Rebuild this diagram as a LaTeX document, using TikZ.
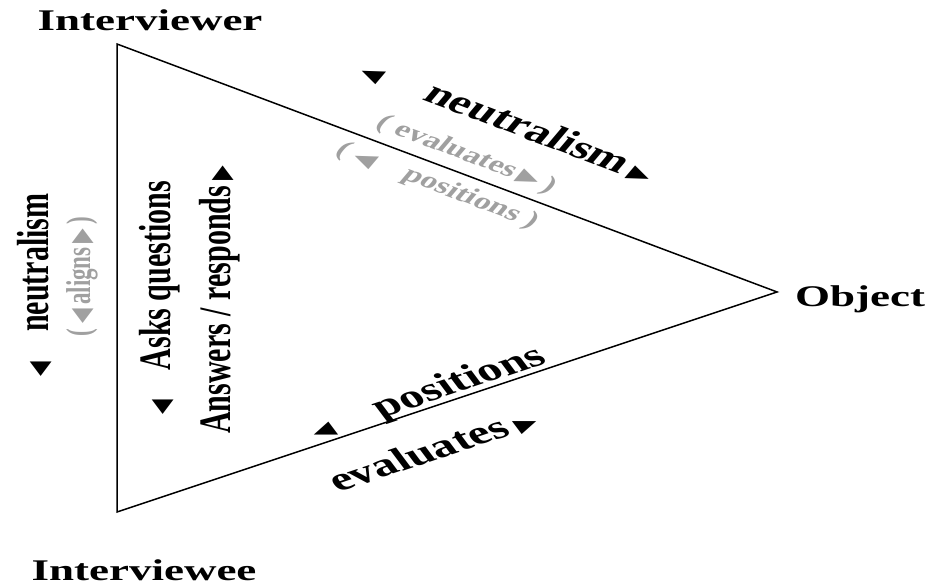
\documentclass[tikz,border=0pt]{standalone}
\usepackage{fontspec}
\setmainfont{Liberation Serif}
\newfontfamily\trifont{DejaVu Sans}
\definecolor{palegrey}{RGB}{160,160,160}
\newcommand{\ltri}{{\trifont\fontsize{19}{19}\selectfont ◀}}
\newcommand{\rtri}{{\trifont\fontsize{19}{19}\selectfont ▶}}
\begin{document}
\begin{tikzpicture}[x={(0.6667pt,0)},y={(0,-1pt)},xscale=1.5,transform shape,
	edge/.style={line width=1.5pt,line join=miter},
	corner/.style={font=\fontsize{30}{30}\selectfont\bfseries},
	word/.style={font=\fontsize{30}{30}\selectfont\bfseries},
	bigword/.style={font=\fontsize{33}{33}\selectfont\bfseries},
	paleword/.style={font=\fontsize{23}{23}\selectfont\bfseries,text=palegrey}]
	\useasboundingbox (0,0) rectangle (935,586);
	\coordinate (tl) at (117,44);
	\coordinate (bl) at (117,512);
	\coordinate (rt) at (777,292);
	\draw[edge] (tl) -- (rt) -- (bl) -- cycle;
	\node[corner] (interviewer) at (150,20) {Interviewer};
	\node[corner] (interviewee) at (144,570) {Interviewee};
	\node[corner] (object) at (860,299) {Object};
%	top side
	\node[bigword,rotate=-29.5] (neutraltop) at (510,121) {\ltri\quad neutralism\,\rtri};
	\node[paleword,rotate=-29.5] (evaltop) at (466,155) {( evaluates\,\rtri\,)};
	\node[paleword,rotate=-29.5] (postop) at (437,186) {( \ltri\quad positions )};
%	left side
	\node[word,rotate=90] (neutralleft) at (35,285) {\ltri\quad neutralism};
	\node[paleword,rotate=90] (aligns) at (82,277) {( \ltri\,aligns\,\rtri\,)};
	\node[word,rotate=90] (asks) at (160,298) {\ltri\quad Asks questions};
	\node[word,rotate=90] (answers) at (220,300) {Answers / responds\,\rtri};
%	bottom side
	\node[bigword,rotate=26.6] (posbot) at (428,394) {\ltri\quad positions};
	\node[bigword,rotate=26.6] (evalbot) at (432,450) {evaluates\,\rtri};
\end{tikzpicture}
\end{document}
